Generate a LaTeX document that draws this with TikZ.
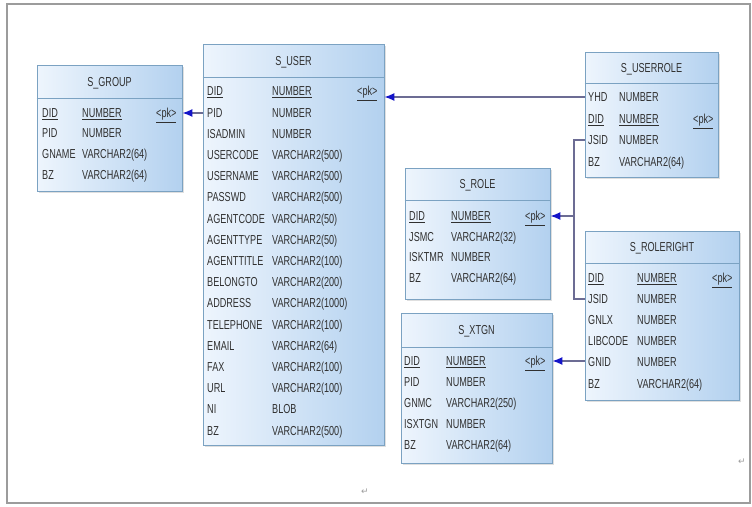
\documentclass[tikz,border=0pt]{standalone}
\usepackage{fontspec}
\setmainfont{Liberation Sans}[FakeStretch=0.7]
\newfontfamily\symfont{DejaVu Sans}
\usetikzlibrary{arrows.meta,fit,shadows}
\definecolor{tblue}{HTML}{B3D1EF}
\definecolor{tlight}{HTML}{EEF5FD}
\definecolor{tborder}{HTML}{7BA2C2}
\definecolor{ttext}{HTML}{303030}
\definecolor{cline}{HTML}{6C6C94}
\definecolor{ctip}{HTML}{1414C8}
\definecolor{frame}{HTML}{9C9C9C}
\tikzset{
  tbox/.style={inner sep=0pt, draw=tborder, line width=0.9pt,
    left color=tlight, right color=tblue,
    drop shadow={shadow xshift=1.5pt, shadow yshift=-1.5pt, opacity=0.25}},
  tline/.style={draw=tborder, line width=0.9pt},
  ttitle/.style={anchor=base, inner sep=0pt, text=ttext, font=\fontsize{13}{15}\selectfont},
  rtxt/.style={anchor=base west, inner sep=0pt, text=ttext, font=\fontsize{13}{15}\selectfont},
  conn/.style={draw=cline, line width=1.2pt},
  fk/.style={conn, -{Latex[color=ctip, length=10pt, width=8pt]}},
  retmark/.style={inner sep=0pt, text=frame, font=\symfont\fontsize{9}{9}\selectfont}
}
\newcommand\erbox[7]{%
  \node[tbox, fit={(#3,#4)(#5,#6)}] (#1) {};
  \draw[tline] (#1.west |- 0,#7) -- (#1.east |- 0,#7);
  \node[ttitle] (#1-title) at ({(#3+#5)/2},{(#4+#7)/2+4.8}) {#2};
}
% id, y, x1, text1, x2, text2
\newcommand\erow[6]{%
  \node[rtxt] (#1) at (#3,#2+4.8) {#4};
  \node[rtxt] (#1-type) at (#5,#2+4.8) {#6};
}
\newcommand\pk[3]{\node[rtxt] (#1) at (#2,#3+4.8) {\underline{<pk>}};}
\begin{document}
\begin{tikzpicture}[x=1pt,y=-1pt]
\useasboundingbox (0,0) rectangle (752,506);
\draw[frame, line width=1.4pt] (7,4) rectangle (750,503);

% S_GROUP
\erbox{group}{S\_GROUP}{37}{65}{182}{191}{98}
\erow{group-did}{113}{42}{\underline{DID}}{82}{\underline{NUMBER}}
\pk{group-pk}{156}{113}
\erow{group-pid}{133}{42}{PID}{82}{NUMBER}
\erow{group-gname}{154}{42}{GNAME}{82}{VARCHAR2(64)}
\erow{group-bz}{175}{42}{BZ}{82}{VARCHAR2(64)}

% S_USER
\erbox{user}{S\_USER}{203}{44}{384}{445}{77}
\erow{user-did}{91}{207}{\underline{DID}}{272}{\underline{NUMBER}}
\pk{user-pk}{357}{91}
\erow{user-pid}{112.2}{207}{PID}{272}{NUMBER}
\erow{user-isadmin}{133.4}{207}{ISADMIN}{272}{NUMBER}
\erow{user-usercode}{154.6}{207}{USERCODE}{272}{VARCHAR2(500)}
\erow{user-username}{175.8}{207}{USERNAME}{272}{VARCHAR2(500)}
\erow{user-passwd}{197}{207}{PASSWD}{272}{VARCHAR2(500)}
\erow{user-agentcode}{218.2}{207}{AGENTCODE}{272}{VARCHAR2(50)}
\erow{user-agenttype}{239.4}{207}{AGENTTYPE}{272}{VARCHAR2(50)}
\erow{user-agenttitle}{260.6}{207}{AGENTTITLE}{272}{VARCHAR2(100)}
\erow{user-belongto}{281.8}{207}{BELONGTO}{272}{VARCHAR2(200)}
\erow{user-address}{303}{207}{ADDRESS}{272}{VARCHAR2(1000)}
\erow{user-telephone}{324.2}{207}{TELEPHONE}{272}{VARCHAR2(100)}
\erow{user-email}{345.4}{207}{EMAIL}{272}{VARCHAR2(64)}
\erow{user-fax}{366.6}{207}{FAX}{272}{VARCHAR2(100)}
\erow{user-url}{387.8}{207}{URL}{272}{VARCHAR2(100)}
\erow{user-ni}{409}{207}{NI}{272}{BLOB}
\erow{user-bz}{430.2}{207}{BZ}{272}{VARCHAR2(500)}

% S_USERROLE
\erbox{urole}{S\_USERROLE}{585}{52}{718}{177}{83}
\erow{urole-yhd}{97}{588}{YHD}{619}{NUMBER}
\erow{urole-did}{119}{588}{\underline{DID}}{619}{\underline{NUMBER}}
\pk{urole-pk}{693}{119}
\erow{urole-jsid}{140}{588}{JSID}{619}{NUMBER}
\erow{urole-bz}{162}{588}{BZ}{619}{VARCHAR2(64)}

% S_ROLE
\erbox{role}{S\_ROLE}{405}{168}{550}{299}{200}
\erow{role-did}{216}{409}{\underline{DID}}{451}{\underline{NUMBER}}
\pk{role-pk}{525}{216}
\erow{role-jsmc}{236.5}{409}{JSMC}{451}{VARCHAR2(32)}
\erow{role-isktmr}{257}{409}{ISKTMR}{451}{NUMBER}
\erow{role-bz}{278}{409}{BZ}{451}{VARCHAR2(64)}

% S_ROLERIGHT
\erbox{rright}{S\_ROLERIGHT}{585}{231}{739}{400}{263}
\erow{rright-did}{278}{588}{\underline{DID}}{637}{\underline{NUMBER}}
\pk{rright-pk}{712}{278}
\erow{rright-jsid}{299}{588}{JSID}{637}{NUMBER}
\erow{rright-gnlx}{320}{588}{GNLX}{637}{NUMBER}
\erow{rright-libcode}{341}{588}{LIBCODE}{637}{NUMBER}
\erow{rright-gnid}{362}{588}{GNID}{637}{NUMBER}
\erow{rright-bz}{384}{588}{BZ}{637}{VARCHAR2(64)}

% S_XTGN
\erbox{xtgn}{S\_XTGN}{401}{313}{552}{463}{347}
\erow{xtgn-did}{361}{404}{\underline{DID}}{446}{\underline{NUMBER}}
\pk{xtgn-pk}{525}{361}
\erow{xtgn-pid}{382}{404}{PID}{446}{NUMBER}
\erow{xtgn-gnmc}{403}{404}{GNMC}{446}{VARCHAR2(250)}
\erow{xtgn-isxtgn}{424}{404}{ISXTGN}{446}{NUMBER}
\erow{xtgn-bz}{445}{404}{BZ}{446}{VARCHAR2(64)}

% connectors
\coordinate (bus) at (574,0);
\draw[fk] (user.west |- 0,113) -- (group.east |- 0,113);
\draw[fk] (urole.west |- 0,97) -- (user.east |- 0,97);
\draw[conn] (urole.west |- 0,140) -- (bus |- 0,140) -- (bus |- 0,299) -- (rright.west |- 0,299);
\draw[fk] (bus |- 0,216) -- (role.east |- 0,216);
\draw[fk] (rright.west |- 0,361) -- (xtgn.east |- 0,361);

% paragraph marks
\node[retmark] (ret1) at (742,462) {↵};
\node[retmark] (ret2) at (365,492) {↵};
\end{tikzpicture}
\end{document}
